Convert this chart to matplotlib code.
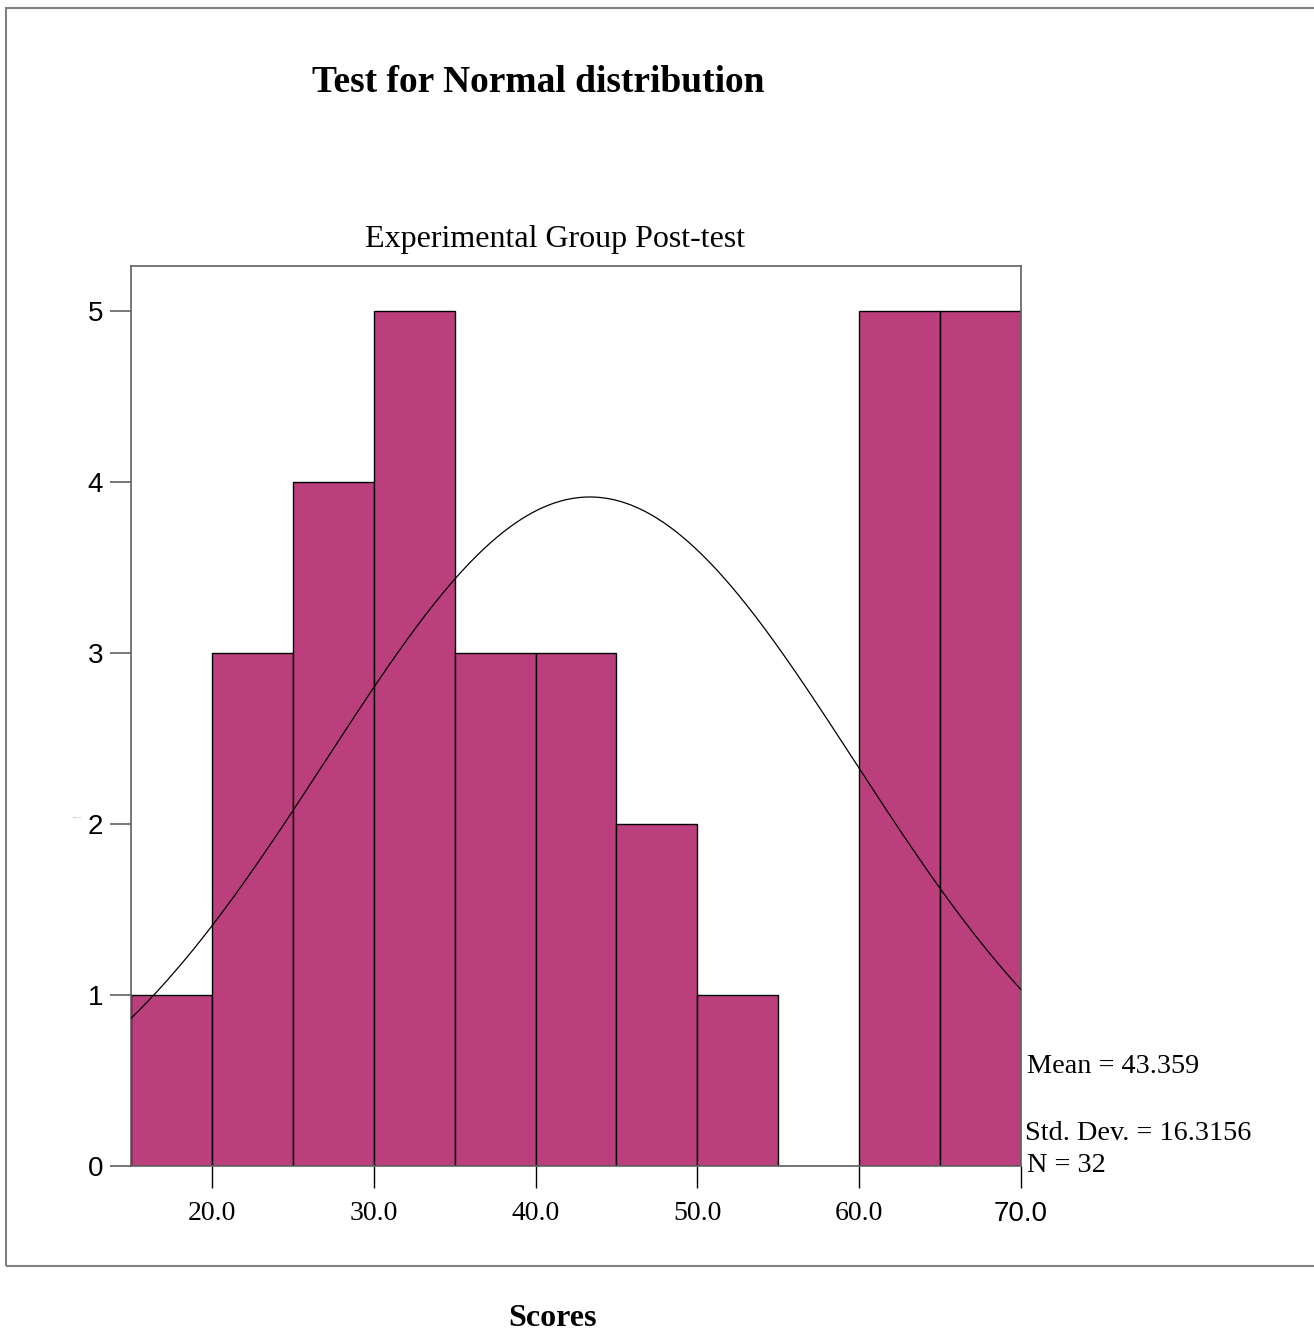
import numpy as np
import matplotlib
matplotlib.use("Agg")
import matplotlib.pyplot as plt
from matplotlib.patches import Rectangle

# ---- data ----
bin_edges = [15, 20, 25, 30, 35, 40, 45, 50, 55, 60, 65, 70]
counts = [1, 3, 4, 5, 3, 3, 2, 1, 0, 5, 5]
mean_val = 43.359
std_val = 16.3156
n_val = 32
x_ticks = [20, 30, 40, 50, 60, 70]
x_tick_labels = ["20.0", "30.0", "40.0", "50.0", "60.0", "70.0"]
y_ticks = [0, 1, 2, 3, 4, 5]

W, H = 1314, 1335
fig = plt.figure(figsize=(W / 100, H / 100), dpi=100)
fig.patch.set_facecolor("white")

serif = ["Liberation Serif", "DejaVu Serif"]
sans = ["Liberation Sans", "DejaVu Sans"]

# outer frame
fig.add_artist(Rectangle((6 / W, (H - 1266) / H), 1.2, (1266 - 8) / H,
                         transform=fig.transFigure, fill=False,
                         edgecolor="#808080", lw=1.5))

ax = fig.add_axes([131 / W, (H - 1166) / H, 890 / W, 900 / H])
lefts = bin_edges[:-1]
widths = np.diff(bin_edges)
ax.bar(lefts, counts, width=widths, align="edge", color="#BB3F7C",
       edgecolor="black", linewidth=1.0, zorder=2)

binw = bin_edges[1] - bin_edges[0]
xs = np.linspace(bin_edges[0], bin_edges[-1], 400)
ys = n_val * binw / (std_val * np.sqrt(2 * np.pi)) * np.exp(-0.5 * ((xs - mean_val) / std_val) ** 2)
ax.plot(xs, ys, color="black", lw=0.9, zorder=3)

ax.set_xlim(bin_edges[0], bin_edges[-1])
ax.set_ylim(0, 5.263)
for s in ax.spines.values():
    s.set_color("#606060")
    s.set_linewidth(1.2)

ax.set_yticks(y_ticks)
ax.set_yticklabels([str(v) for v in y_ticks], fontfamily=sans, fontsize=20)
ax.tick_params(axis="y", direction="out", length=15, width=1.2, color="#606060", pad=5)

ax.set_xticks(x_ticks)
ax.set_xticklabels(x_tick_labels, fontfamily=serif, fontsize=20)
ax.get_xticklabels()[-1].set_fontfamily(sans)
ax.tick_params(axis="x", direction="out", length=16, width=1.0, color="black", pad=9)

# titles
fig.text(538 / W, 1 - 92 / H, "Test for Normal distribution", ha="center", va="baseline",
         fontfamily=serif, fontweight="bold", fontsize=27)
fig.text(555.5 / W, 1 - 247 / H, "Experimental Group Post-test", ha="center", va="baseline",
         fontfamily=serif, fontsize=23)
fig.text(552.5 / W, 1 - 1326 / H, "Scores", ha="center", va="baseline",
         fontfamily=serif, fontweight="bold", fontsize=23)
fig.text(78 / W, 1 - 818 / H, "Frequency", ha="center", va="center",
         fontfamily=sans, fontsize=1.5, color="#808080")

# stats
fig.text(1027 / W, 1 - 1073 / H, f"Mean = {mean_val:.3f}", ha="left", va="baseline",
         fontfamily=serif, fontsize=20.3)
fig.text(1025 / W, 1 - 1140 / H, f"Std. Dev. = {std_val:.4f}", ha="left", va="baseline",
         fontfamily=serif, fontsize=20.3)
fig.text(1027 / W, 1 - 1172 / H, f"N = {n_val}", ha="left", va="baseline",
         fontfamily=serif, fontsize=20.3)

fig.savefig("out.png", dpi=100)
